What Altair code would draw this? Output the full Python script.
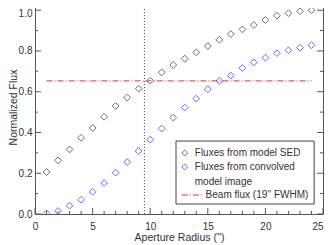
import altair as alt
import pandas as pd

# ---- data ----
radius = list(range(1, 25))
sed_flux = [0.206, 0.263, 0.317, 0.374, 0.422, 0.477, 0.530, 0.571, 0.615, 0.654,
            0.695, 0.731, 0.762, 0.793, 0.824, 0.855, 0.883, 0.906, 0.927, 0.952,
            0.973, 0.985, 0.995, 1.000]
conv_flux = [0.003, 0.015, 0.041, 0.070, 0.109, 0.152, 0.203, 0.255, 0.309, 0.365,
             0.419, 0.473, 0.522, 0.566, 0.612, 0.653, 0.679, 0.716, 0.744, 0.767,
             0.789, 0.803, 0.816, 0.828]
beam_flux = 0.653
beam_x = [1, 24]
beam_radius = 9.5

x_major = [0, 5, 10, 15, 20, 25]
x_minor = [v for v in range(0, 26) if v % 5 != 0]
y_major = [0.0, 0.2, 0.4, 0.6, 0.8, 1.0]
y_minor = [0.1, 0.3, 0.5, 0.7, 0.9]

legend_labels = ["Fluxes from model SED", "Fluxes from convolved", "model image",
                 "Beam flux (19'' FWHM)"]

# ---- layout ----
W, H = 288, 214
FONT = "Liberation Sans"
TXT = "#333333"
FRAME = "#555555"
BLACK = "#333333"
BLUE = "#2a2aff"
RED = "#e03030"

xscale = alt.Scale(domain=[0, 25], nice=False, zero=False)
yscale = alt.Scale(domain=[0, 1.05], nice=False, zero=False)

xaxis = alt.Axis(values=x_major, ticks=False, domain=False, grid=False,
                 labelFont=FONT, labelFontSize=10, labelColor=TXT, labelPadding=7,
                 labelAlign=alt.ExprRef(expr="datum.value >= 25 ? 'right' : 'center'"),
                 title="Aperture Radius ('')", titleFont=FONT, titleFontSize=10.5,
                 titleFontWeight="normal", titleColor=TXT, titleY=23,
                 titleBaseline="middle")
yaxis = alt.Axis(values=y_major, format=".1f", ticks=False, domain=False, grid=False,
                 labelFont=FONT, labelFontSize=10, labelColor=TXT, labelPadding=3,
                 labelOffset={"condition": {"test": "datum.value >= 1", "value": 3}, "value": 0},
                 title="Normalized Flux", titleFont=FONT, titleFontSize=10.5,
                 titleFontWeight="normal", titleColor=TXT, titleX=-22, titleY=107,
                 titleAngle=-90, titleAlign="center", titleBaseline="middle")


def X(field):
    return alt.X(field, scale=xscale, axis=xaxis)


def Y(field):
    return alt.Y(field, scale=yscale, axis=yaxis)


pts = pd.DataFrame({"r": radius * 2,
                    "f": sed_flux + conv_flux,
                    "s": ["sed"] * len(radius) + ["conv"] * len(radius)})

colour = alt.Scale(domain=["sed", "conv"], range=[BLACK, BLUE])

points = alt.Chart(pts).mark_point(shape="diamond", size=46, filled=False,
                                   strokeWidth=1, clip=True).encode(
    x=X("r:Q"), y=Y("f:Q"),
    color=alt.Color("s:N", scale=colour, legend=None),
)

vline = alt.Chart(pd.DataFrame({"r": [beam_radius]})).mark_rule(
    color="#444444", strokeDash=[1, 2], strokeWidth=1).encode(x=X("r:Q"))

hline = alt.Chart(pd.DataFrame({"r": [beam_x[0]], "r2": [beam_x[1]], "f": [beam_flux]})).mark_rule(
    color=RED, strokeDash=[6, 2, 1, 2], strokeWidth=1).encode(
    x=X("r:Q"), x2="r2:Q", y=Y("f:Q"))


# inward ticks on all four sides
def xticks(vals, length):
    d = pd.DataFrame({"r": vals})
    b = alt.Chart(d).mark_rule(color=FRAME, strokeWidth=1).encode(
        x=X("r:Q"), y=alt.value(H), y2=alt.value(H - length))
    t = alt.Chart(d).mark_rule(color=FRAME, strokeWidth=1).encode(
        x=X("r:Q"), y=alt.value(0), y2=alt.value(length))
    return [b, t]


def yticks(vals, length):
    d = pd.DataFrame({"f": vals})
    l = alt.Chart(d).mark_rule(color=FRAME, strokeWidth=1).encode(
        y=Y("f:Q"), x=alt.value(0), x2=alt.value(length))
    r = alt.Chart(d).mark_rule(color=FRAME, strokeWidth=1).encode(
        y=Y("f:Q"), x=alt.value(W), x2=alt.value(W - length))
    return [l, r]


ticks = xticks(x_major, 6) + xticks(x_minor, 3) + yticks(y_major, 6) + yticks(y_minor, 3)

# legend drawn in data coordinates
LX0, LX1, LY0, LY1 = 12.24, 24.23, 0.049, 0.358
box = alt.Chart(pd.DataFrame({"r": [LX0], "r2": [LX1], "f": [LY0], "f2": [LY1]})).mark_rect(
    fill=None, stroke="#444444", strokeWidth=1).encode(
    x=X("r:Q"), x2="r2:Q", y=Y("f:Q"), y2="f2:Q")

leg_y = [0.299, 0.231, 0.159, 0.093]
leg_tx = [13.87, 13.87, 13.87, 14.81]
leg_text = alt.Chart(pd.DataFrame({"r": leg_tx, "f": leg_y, "t": legend_labels})).mark_text(
    align="left", baseline="middle", font=FONT, fontSize=10, color=TXT).encode(
    x=X("r:Q"), y=Y("f:Q"), text="t:N")

leg_sym = alt.Chart(pd.DataFrame({"r": [13.0, 13.0], "f": leg_y[:2], "s": ["sed", "conv"]})).mark_point(
    shape="diamond", size=34, filled=False, strokeWidth=1).encode(
    x=X("r:Q"), y=Y("f:Q"),
    color=alt.Color("s:N", scale=colour, legend=None))

leg_line = alt.Chart(pd.DataFrame({"r": [12.74], "r2": [14.47], "f": [leg_y[3]]})).mark_rule(
    color=RED, strokeDash=[6, 2, 1, 2], strokeWidth=1).encode(
    x=X("r:Q"), x2="r2:Q", y=Y("f:Q"))

chart = alt.layer(points, vline, hline, *ticks, box, leg_text, leg_sym, leg_line).properties(
    width=W, height=H,
    autosize=alt.AutoSizeParams(type="none"),
    padding={"left": 27, "top": -8, "right": 1, "bottom": 31},
    background="white",
).configure_view(stroke=FRAME, strokeWidth=1)

chart.save("out.html", embed_options={"renderer": "svg", "actions": False})
